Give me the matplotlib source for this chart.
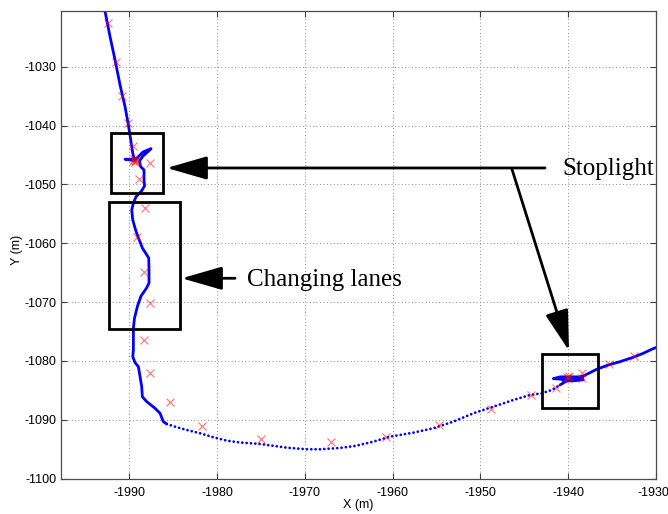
import matplotlib

matplotlib.use("Agg")
import matplotlib.pyplot as plt  # noqa: E402
from matplotlib.patches import Rectangle  # noqa: E402
from matplotlib.transforms import ScaledTranslation  # noqa: E402

# vehicle track (m), split by how densely the fixes were logged
approach_x = [-1992.77, -1992.20, -1991.63, -1991.06, -1990.49, -1990.11, -1989.84, -1989.61,
              -1989.43, -1990.49, -1989.41, -1988.44, -1987.53, -1987.87, -1988.44, -1988.84,
              -1988.72, -1988.33, -1988.33, -1988.27, -1988.61, -1989.24, -1989.54, -1989.73,
              -1989.61, -1989.29, -1988.95, -1988.50, -1988.04, -1987.79, -1987.76, -1987.76,
              -1988.04, -1988.67, -1989.07, -1989.41, -1989.54, -1989.54, -1989.54, -1989.61,
              -1989.35, -1988.97, -1988.78, -1988.59, -1988.52, -1988.02, -1987.07, -1986.50,
              -1986.13, -1985.74]
approach_y = [-1020.59, -1024.90, -1028.86, -1033.11, -1036.80, -1039.90, -1042.45, -1044.71,
              -1045.73, -1045.73, -1045.94, -1044.49, -1043.93, -1044.41, -1045.17, -1046.02,
              -1046.96, -1047.55, -1049.25, -1050.27, -1051.12, -1052.09, -1053.16, -1054.35,
              -1056.05, -1057.74, -1059.15, -1060.85, -1061.91, -1062.50, -1064.54, -1066.75,
              -1067.60, -1068.96, -1070.66, -1072.69, -1074.39, -1076.43, -1078.13, -1079.27,
              -1080.29, -1080.97, -1082.67, -1084.37, -1086.07, -1086.91, -1088.04, -1088.89,
              -1090.31, -1090.70]

curve_x = [-1985.74, -1984.60, -1983.46, -1981.95, -1980.43, -1978.90, -1977.39, -1975.11,
           -1972.07, -1969.79, -1968.28, -1966.00, -1964.29, -1962.20, -1960.30, -1957.65,
           -1955.37, -1953.09, -1950.81, -1948.53, -1946.25, -1944.35, -1943.02, -1941.88,
           -1940.94]
curve_y = [-1090.70, -1091.26, -1091.72, -1092.28, -1092.96, -1093.54, -1093.85, -1094.10,
           -1094.73, -1095.00, -1095.00, -1094.78, -1094.44, -1093.71, -1092.86, -1092.18,
           -1091.43, -1090.31, -1088.89, -1087.76, -1086.63, -1085.78, -1085.49, -1084.93,
           -1084.08]

exit_x = [-1940.94, -1940.30, -1939.70, -1941.70, -1940.90, -1939.50, -1938.40, -1938.30,
          -1939.60, -1940.60, -1939.00, -1938.20, -1936.75, -1935.43, -1934.10, -1932.58,
          -1931.44, -1930.49, -1929.89]
exit_y = [-1084.08, -1083.50, -1083.20, -1083.00, -1082.70, -1082.70, -1082.70, -1083.20,
          -1083.40, -1083.30, -1083.00, -1082.50, -1081.41, -1080.68, -1080.12, -1079.37,
          -1078.69, -1078.01, -1077.67]

# raw GPS fixes
gps_x = [-1992.47, -1991.52, -1990.83, -1990.11, -1989.62,
         -1989.50, -1989.30, -1989.40, -1989.20, -1989.60,
         -1987.61, -1988.86, -1988.26, -1989.12, -1988.29, -1987.61, -1988.37, -1987.61,
         -1985.41, -1981.69, -1975.00, -1967.03, -1960.80, -1954.70, -1948.80, -1944.25,
         -1941.40, -1940.00, -1939.90, -1940.10, -1938.40, -1938.40, -1935.40, -1932.45]
gps_y = [-1022.63, -1029.15, -1034.92, -1039.61, -1043.41,
         -1045.70, -1046.00, -1046.20, -1045.80, -1046.10,
         -1046.40, -1049.10, -1054.04, -1058.86, -1064.90, -1070.17, -1076.50, -1082.05,
         -1086.93, -1091.12, -1093.20, -1093.84, -1092.90, -1090.80, -1088.20, -1085.80,
         -1084.60, -1082.90, -1082.60, -1082.80, -1082.10, -1082.90, -1080.50, -1079.10]

# highlighted regions: (x0, y0, x1, y1)
box_stop1 = (-1992.14, -1051.46, -1986.16, -1041.26)
box_lanes = (-1992.37, -1074.56, -1984.26, -1053.04)
box_stop2 = (-1942.98, -1087.99, -1936.61, -1078.81)

xticks = [-1990, -1980, -1970, -1960, -1950, -1940, -1930]
yticks = [-1100, -1090, -1080, -1070, -1060, -1050, -1040, -1030]

plt.rcParams["font.family"] = ["Liberation Sans", "DejaVu Sans"]
plt.rcParams["axes.unicode_minus"] = False

fig = plt.figure(figsize=(6.68, 5.14), dpi=100)
ax = fig.add_axes([0.0918, 0.0687, 0.8902, 0.9099])

track = dict(color="#0000ff", lw=2.0, solid_capstyle="round", solid_joinstyle="round")
ax.plot(approach_x, approach_y, **track)
ax.plot(curve_x, curve_y, color="#0000ff", lw=2.0, linestyle=(0, (0.01, 1.55)),
        dash_capstyle="round")
ax.plot(exit_x, exit_y, **track)
ax.plot(gps_x, gps_y, "x", color="red", alpha=0.5, ms=6, mew=0.9)

for x0, y0, x1, y1 in (box_stop1, box_lanes, box_stop2):
    ax.add_patch(Rectangle((x0, y0), x1 - x0, y1 - y0, fill=False, ec="black",
                           lw=2.0, joinstyle="miter", clip_on=False, zorder=5))

arrow = dict(arrowstyle="-|>,head_length=2.5,head_width=0.72", mutation_scale=10,
             color="black", lw=2.0, shrinkA=0, shrinkB=0)
ax.annotate("", xy=(-1985.74, -1047.21), xytext=(-1942.64, -1047.21),
            arrowprops=arrow, annotation_clip=False, zorder=6)
ax.annotate("", xy=(-1939.91, -1078.25), xytext=(-1946.44, -1047.26),
            arrowprops=arrow, annotation_clip=False, zorder=6)
ax.annotate("", xy=(-1984.03, -1065.95), xytext=(-1977.96, -1065.95),
            arrowprops=arrow, annotation_clip=False, zorder=6)

label_font = dict(family="Liberation Serif", fontsize=18, va="baseline", ha="left")
ax.text(-1940.61, -1048.40, "Stoplight", **label_font)
ax.text(-1976.56, -1067.26, "Changing lanes", **label_font)

ax.set_xlim(-1997.75, -1930)
ax.set_ylim(-1100, -1020.54)
ax.set_xticks(xticks)
ax.set_yticks(yticks)
ax.tick_params(direction="in", top=True, right=True, length=4, width=0.8,
               colors="0.25", labelcolor="black", labelsize=9)
ax.tick_params(axis="x", pad=6)
ax.tick_params(axis="y", pad=3.5)
ax.grid(True, color="0.55", linestyle=(0, (1, 2.5)), lw=0.7)
for s in ax.spines.values():
    s.set_color("0.3")
    s.set_linewidth(0.9)

# the last x label sits on the figure edge; pull it in a little
last = ax.get_xticklabels()[-1]
last.set_transform(last.get_transform() + ScaledTranslation(-3 / 100, 0, fig.dpi_scale_trans))

ax.set_xlabel("X (m)", fontsize=9)
ax.set_ylabel("Y (m)", fontsize=9)
ax.xaxis.set_label_coords(0.499, -0.044)
ax.yaxis.set_label_coords(-0.064, 0.49)

fig.savefig("out.png", dpi=100)
